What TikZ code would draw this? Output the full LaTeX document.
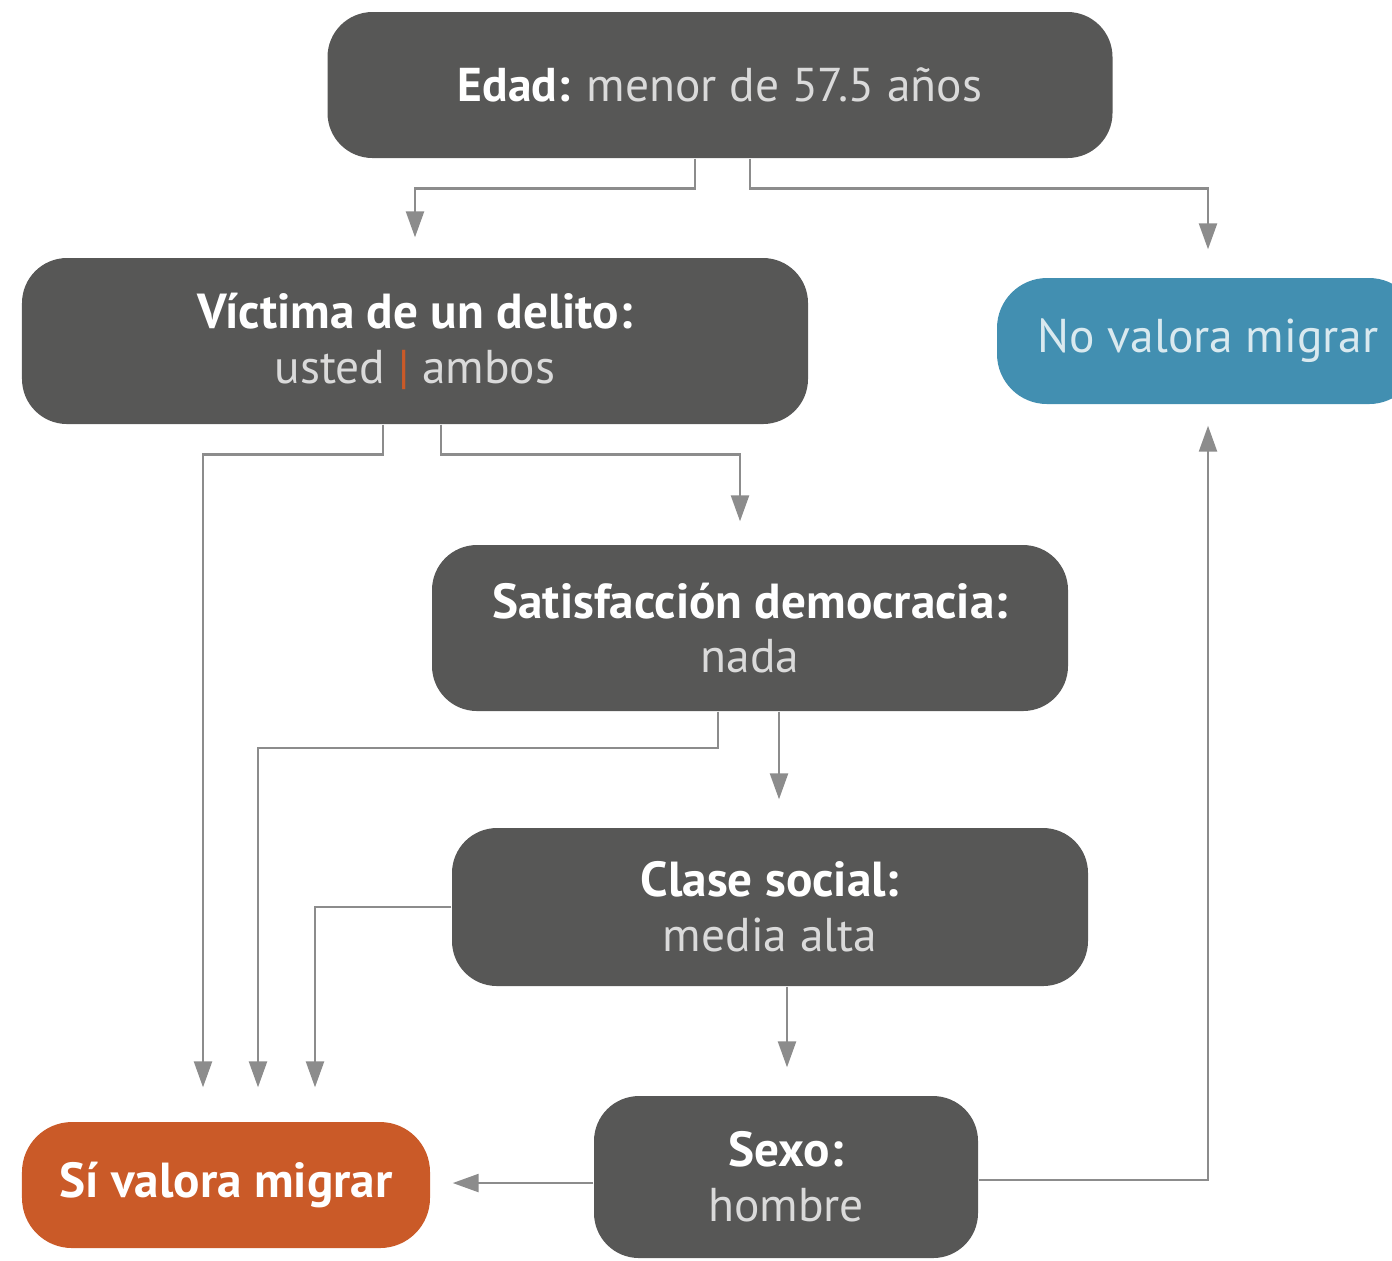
\documentclass[tikz,border=0pt]{standalone}
\usepackage{fontspec}
\setmainfont{PT Sans}
\usepackage{tikz}
\usetikzlibrary{arrows.meta,positioning}
\definecolor{boxgray}{HTML}{575756}
\definecolor{noblue}{HTML}{428FB1}
\definecolor{siorange}{HTML}{CA5A28}
\definecolor{linegray}{HTML}{8C8C8C}
\definecolor{softtxt}{HTML}{DADADA}
\tikzset{
  cond/.style={fill=boxgray, rounded corners=0.45cm, align=center, text=white, inner sep=0},
  leaf/.style={rounded corners=0.5cm, align=center, inner sep=0},
  arr/.style={draw=linegray, line width=0.7pt, -{Triangle[length=0.26cm,width=0.18cm]}},
}
\newcommand{\lite}[1]{\textcolor{softtxt}{#1}}

\begin{document}
\begin{tikzpicture}[font=\fontsize{13.5}{15.6}\selectfont]
  \useasboundingbox (0,0) rectangle (13.92,-12.6);

  \node [cond, minimum width=7.85cm, minimum height=1.46cm] (edad) at (7.20,-0.85) {\textbf{Edad:} \lite{menor de 57.5 años}};
  \node [cond, minimum width=7.86cm, minimum height=1.66cm] (victima) at (4.15,-3.41) {\textbf{\fontsize{14}{15.6}\selectfont Víctima de un delito:}\\ \lite{usted} \textcolor{siorange}{|} \lite{ambos}};
  \node [leaf, fill=noblue, text=noblue!20, minimum width=4.22cm, minimum height=1.26cm] (novalora) at (12.08,-3.41) {No valora migrar};
  \node [cond, minimum width=6.36cm, minimum height=1.66cm] (satis) at (7.50,-6.28) {\textbf{\fontsize{14}{15.6}\selectfont Satisfacción democracia:}\\ \lite{nada}};
  \node [cond, minimum width=6.36cm, minimum height=1.58cm] (clase) at (7.70,-9.07) {\textbf{\fontsize{14}{15.6}\selectfont Clase social:}\\ \lite{media alta}};
  \node [cond, minimum width=3.84cm, minimum height=1.62cm] (sexo) at (7.86,-11.77) {\textbf{\fontsize{14}{15.6}\selectfont Sexo:}\\ \lite{hombre}};
  \node [leaf, fill=siorange, text=white, minimum width=4.08cm, minimum height=1.26cm] (si) at (2.26,-11.85) {\textbf{\fontsize{14}{15.6}\selectfont Sí valora migrar}};

  % edad
  \draw [arr, shorten >=0.2cm] ([xshift=-0.25cm]edad.south) -- ++(0,-0.3) -| (victima.north);
  \draw [arr, shorten >=0.28cm] ([xshift=0.30cm]edad.south) -- ++(0,-0.3) -| (novalora.north);
  % victima
  \draw [arr, shorten >=0.34cm] ([xshift=-0.32cm]victima.south) -- ++(0,-0.3) -| ([xshift=-0.23cm]si.north);
  \draw [arr, shorten >=0.23cm] ([xshift=0.26cm]victima.south) -- ++(0,-0.3) -| ([xshift=-0.10cm]satis.north);
  % satisfaccion
  \draw [arr, shorten >=0.34cm] ([xshift=-0.32cm]satis.south) -- ++(0,-0.36) -| ([xshift=0.32cm]si.north);
  \draw [arr, shorten >=0.28cm] ([xshift=0.29cm]satis.south) -- ([xshift=0.09cm]clase.north);
  % clase
  \draw [arr, shorten >=0.34cm] (clase.west) -| ([xshift=0.89cm]si.north);
  \draw [arr, shorten >=0.28cm] ([xshift=0.17cm]clase.south) -- ([xshift=0.01cm]sexo.north);
  % sexo
  \draw [arr, shorten >=0.22cm] ([yshift=-0.06cm]sexo.west) -- ([yshift=-0.06cm]sexo.west -| si.east);
  \draw [arr, shorten >=0.21cm] ([yshift=-0.03cm]sexo.east) -| (novalora.south);
\end{tikzpicture}
\end{document}
